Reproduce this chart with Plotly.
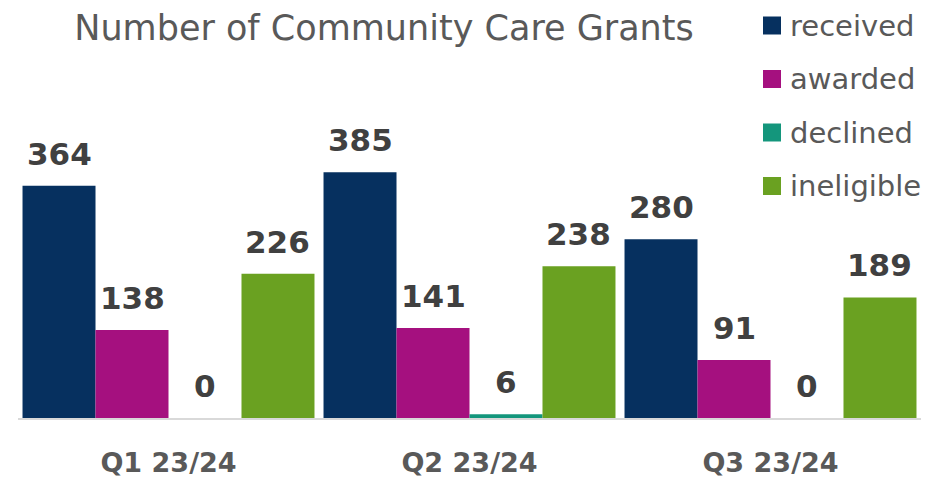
import plotly.graph_objects as go

quarters = ['Q1 23/24', 'Q2 23/24', 'Q3 23/24']
received = [364, 385, 280]
awarded = [138, 141, 91]
declined = [0, 6, 0]
ineligible = [226, 238, 189]

series = [
    ('received', received, '#06305F'),
    ('awarded', awarded, '#A5107F'),
    ('declined', declined, '#14967C'),
    ('ineligible', ineligible, '#6AA121'),
]

font_main = 'DejaVu Sans'
# page body has an 8px margin, so the figure is drawn 8px smaller
W, H = 936, 471
ml, mr, mt, mb = 10, 23, 91, 61
pw, ph = W - ml - mr, H - mt - mb
bargap = 0.03
bar_px = pw / len(quarters) * (1 - bargap) / len(series)

fig = go.Figure()
for k, (name, vals, col) in enumerate(series):
    fig.add_trace(go.Bar(
        x=quarters, y=vals, name=name,
        marker=dict(color=col, line=dict(width=0)),
    ))
    # value labels sit a bit higher above the bars than plotly's outside text
    for q, v in zip(quarters, vals):
        fig.add_annotation(x=q, y=v, text=str(v), showarrow=False,
                           xanchor='center', yanchor='bottom',
                           xshift=(k - 1.5) * bar_px, yshift=12,
                           font=dict(family=font_main, size=31, color='#404040',
                                     weight='bold'))

# legend drawn by hand: coloured squares + labels on the right
for i, (name, vals, col) in enumerate(series):
    cy = 17.5 + i * 53.5
    fig.add_shape(type='rect', xref='paper', yref='paper',
                  x0=(755 - ml) / pw, x1=(773 - ml) / pw,
                  y0=(H - mb - cy - 9) / ph, y1=(H - mb - cy + 9) / ph,
                  fillcolor=col, line=dict(width=0))
    fig.add_annotation(text=name, xref='paper', yref='paper',
                       x=(781 - ml) / pw, y=(H - mb - cy) / ph,
                       xanchor='left', yanchor='middle', showarrow=False,
                       borderpad=0,
                       font=dict(family=font_main, size=29, color='#595959'))

fig.update_layout(
    width=W, height=H,
    barmode='group', bargap=bargap, bargroupgap=0,
    plot_bgcolor='white', paper_bgcolor='white',
    margin=dict(l=ml, r=mr, t=mt, b=mb),
    title=dict(text='Number of Community Care Grants', x=376 / W, xanchor='center',
               y=1 - 20 / H, yanchor='middle', yref='container',
               font=dict(family=font_main, size=35, color='#595959')),
    showlegend=False,
)
fig.update_xaxes(showline=True, linecolor='#D9D9D9', linewidth=1.5, ticks='',
                 automargin=False, ticklabelstandoff=20,
                 tickfont=dict(family=font_main, size=27, color='#595959', weight='bold'))
fig.update_yaxes(range=[0, 500], visible=False, showgrid=False, automargin=False)

fig.write_html('out.html')
